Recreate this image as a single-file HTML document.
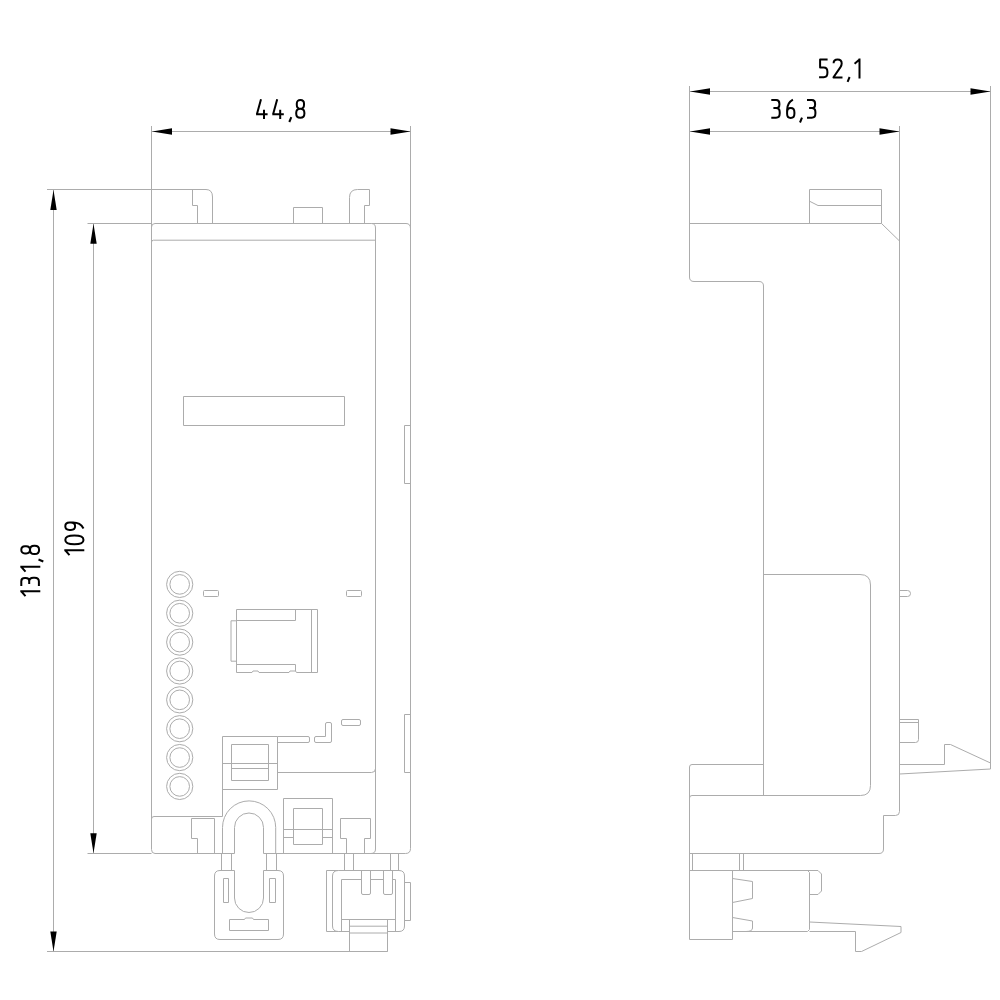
<!DOCTYPE html>
<html><head><meta charset="utf-8"><style>
html,body{margin:0;padding:0;background:#fff;width:1000px;height:1000px;overflow:hidden;}
svg{display:block;}
</style></head><body>
<svg width="1000" height="1000" viewBox="0 0 1000 1000">
<rect width="1000" height="1000" fill="#fff"/>
<g fill="none" stroke="#acacac" stroke-width="1">
<path d="M151.5,126 V227"/>
<path d="M410.5,126 V229"/>
<path d="M152,131.5 H410.5"/>
<path d="M47,189.5 H206"/>
<path d="M53.5,190 V951.5"/>
<path d="M47,951.5 H387.5"/>
<path d="M87.5,223.5 H151.5"/>
<path d="M87.5,853.5 H151.5"/>
<path d="M93.5,224 V853.5"/>
<path d="M234.5,853.5 H155 Q151.5,853.5 151.5,849.5 V227 Q151.5,223.5 155,223.5 H371.5 Q375.5,223.5 375.5,228 V849 Q375.5,853.5 371,853.5 H263.5"/>
<path d="M151.5,242.2 Q151.5,240.2 153.5,240.2 H375.5"/>
<path d="M371.5,223.5 H406 Q410.5,223.5 410.5,228.5 V848.5 Q410.5,853.5 405.5,853.5 H371"/>
<path d="M410.5,425.5 H404.5 V483.5 H410.5"/>
<path d="M410.5,714.5 H404.5 V772.5 H410.5"/>
<path d="M192.5,189.5 V205.5 H197.5 V223.5"/>
<path d="M206,189.5 Q212.5,189.5 212.5,197 V223.5"/>
<path d="M293.5,223.5 V207.5 H322.5 V223.5"/>
<path d="M349.5,223.5 V197.5 Q349.5,189.5 357.5,189.5 H369.5 V205.5 H364.5 V223.5"/>
<path d="M183.5,396.5 H344.5 V425.5 H183.5 Z"/>
<path d="M204.5,590.5 H217.5 Q218.5,590.5 218.5,591.5 V595.5 Q218.5,596.5 217.5,596.5 H204.5 Q203.5,596.5 203.5,595.5 V591.5 Q203.5,590.5 204.5,590.5 Z"/>
<path d="M347.5,590.5 H360.5 Q361.5,590.5 361.5,591.5 V595.5 Q361.5,596.5 360.5,596.5 H347.5 Q346.5,596.5 346.5,595.5 V591.5 Q346.5,590.5 347.5,590.5 Z"/>
<path d="M236.5,609.5 H317.5 V672.5 H296.5 L295.5,671 H290 L289,672.5 H259 L258,671 H253 L252,672.5 H236.5 Z"/>
<path d="M311.5,609.5 V672.5"/>
<path d="M236.5,620.5 H295.5 V609.5"/>
<path d="M236.5,664.5 H295.5 V671"/>
<path d="M236.5,620.8 H231 V661.2 H236.5"/>
<path d="M222.5,816.5 V736.5 H277.5 V789.5 H222.5"/>
<path d="M231.5,744.5 H268.5 V780.5 H231.5 Z"/>
<path d="M222.5,763.5 H277.5"/>
<path d="M231.5,768.5 H268.5"/>
<path d="M277.5,736.5 H308 Q309.5,736.5 309.5,738 V741 Q309.5,742.5 308,742.5 H277.5"/>
<path d="M316,736.5 H325.5 V724 Q325.5,722.5 327,722.5 H330 Q331.5,722.5 331.5,724 V741 Q331.5,742.5 330,742.5 H316 Q314.5,742.5 314.5,741 V738 Q314.5,736.5 316,736.5 Z"/>
<path d="M343,719.5 H359 Q360.5,719.5 360.5,721 V724 Q360.5,725.5 359,725.5 H343 Q341.5,725.5 341.5,724 V721 Q341.5,719.5 343,719.5 Z"/>
<path d="M277.5,772.5 H371.5 Q375.5,772.5 375.5,768.5"/>
<path d="M151.5,819 Q151.5,816.5 154,816.5 H222.5"/>
<path d="M197.5,853.5 V838.5 H191.5 V818.5 H214.5 V853.5"/>
<path d="M222.5,853.5 V827.5 A26.6,26.6 0 0 1 275.7,827.5 V853.5"/>
<path d="M234.5,853.5 V827.5 A14.5,14.5 0 0 1 263.5,827.5 V853.5"/>
<path d="M283.5,853.5 V798.5 H332.5 V853.5"/>
<path d="M293.5,808.5 H322.5 V844.5 H293.5 Z"/>
<path d="M283.5,829.5 H332.5"/>
<path d="M283.5,837.5 H293.5 M322.5,837.5 H332.5"/>
<path d="M346.5,853.5 V838.5 H340.5 V818.5 H370.5 V838.5 H364.5 V853.5"/>
<path d="M221.5,853.5 V870.5 M231.5,853.5 V870.5 M266.5,853.5 V870.5 M276.5,853.5 V870.5"/>
<path d="M344.5,853.5 V870.5 M353.5,853.5 V870.5 M390.5,853.5 V870.5 M398.5,853.5 V870.5"/>
<path d="M234.5,870.5 H220 Q214.5,870.5 214.5,876 V934 Q214.5,939.5 220,939.5 H278 Q283.5,939.5 283.5,934 V876 Q283.5,870.5 278,870.5 H263.5 V898 A14.5,14.5 0 0 1 234.5,898 Z"/>
<path d="M223.5,878.5 H228.5 V902.5 H223.5 Z"/>
<path d="M269.5,878.5 H275.5 V902.5 H269.5 Z"/>
<path d="M229.5,919.5 H244.5 L245.5,918 H252.5 L253.5,919.5 H268.5 V930.5 H229.5 Z"/>
<path d="M338.5,870.5 H326.5 V931.5 H338.5"/>
<path d="M349.5,931.5 H338.5 Q332.5,931.5 332.5,926 V876 Q332.5,870.5 338.5,870.5 H399 Q404.5,870.5 404.5,876 V926 Q404.5,931.5 399,931.5 H387.5"/>
<path d="M341.5,931.5 V879.5 H361.5 M370.5,879.5 H383.5 M392.5,879.5 H395.5 V931.5"/>
<path d="M341.5,919.5 H395.5"/>
<path d="M361.5,870.5 V893 Q361.5,894.5 363,894.5 H369 Q370.5,894.5 370.5,893 V870.5"/>
<path d="M383.5,870.5 V893 Q383.5,894.5 385,894.5 H391 Q392.5,894.5 392.5,893 V870.5"/>
<path d="M349.5,919.5 V951.5 H387.5 V919.5"/>
<path d="M349.5,926.2 H387.5 M349.5,933 H387.5"/>
<path d="M404.5,882.5 H410.5 V920.5 H404.5"/>
<path d="M689.5,86 V277 Q689.5,281.5 694,281.5 H759 Q763.5,281.5 763.5,286 V795.5"/>
<path d="M899.5,126 V811.5 Q899.5,815.5 895.5,815.5 H883.5 V849 Q883.5,853.5 879,853.5 H689.5"/>
<path d="M990.5,86 V769"/>
<path d="M690,91.5 H990.5"/>
<path d="M690,131.5 H899.5"/>
<path d="M689.5,223.5 H881.5 L899.5,241"/>
<path d="M809.5,223.5 V189.5 H881.5 V223.5"/>
<path d="M809.5,201.2 L818,205.5 H881.5"/>
<path d="M763.5,574.5 H860 Q870.5,574.5 870.5,585 V785.5 Q870.5,795.5 860.5,795.5 H692 Q689.5,795.5 689.5,798"/>
<path d="M689.5,939.5 V767 Q689.5,764.5 692,764.5 H763.5"/>
<path d="M899.5,590.5 H907.5 Q910.5,590.5 910.5,593.5 Q910.5,596.5 907.5,596.5 H899.5"/>
<path d="M899.5,719.5 H918.5 V739.5 Q918.5,742.5 915.5,742.5 H899.5"/>
<path d="M899.5,722.5 H918.5"/>
<path d="M899.5,764.5 H944.5 V744.5 H950.5 L990.5,763 V769 L899.5,774"/>
<path d="M692.5,853.5 V870.5 M739.5,853.5 V870.5 M743.5,853.5 V870.5"/>
<path d="M689.5,870.5 H818 L821.5,874 V891 L818,894.5 H809.5"/>
<path d="M732.5,870.5 V939.5 H689.5"/>
<path d="M732.5,931.5 H807.5 L809.5,929.5 V872.5 L807.5,870.5"/>
<path d="M732.5,878.5 L752.5,881.5 V898.5 L732.5,902.5"/>
<path d="M732.5,917.5 L752.5,921 V928 Q752.5,931.5 746,931.5"/>
<path d="M809.5,922 L901,926.5 V932.5 L861.5,951.5 H855.5 V931.5 H809.5"/>
<circle cx="179.7" cy="584.40" r="13.1"/><circle cx="179.7" cy="584.40" r="9.8"/>
<circle cx="179.7" cy="613.26" r="13.1"/><circle cx="179.7" cy="613.26" r="9.8"/>
<circle cx="179.7" cy="642.12" r="13.1"/><circle cx="179.7" cy="642.12" r="9.8"/>
<circle cx="179.7" cy="670.98" r="13.1"/><circle cx="179.7" cy="670.98" r="9.8"/>
<circle cx="179.7" cy="699.84" r="13.1"/><circle cx="179.7" cy="699.84" r="9.8"/>
<circle cx="179.7" cy="728.70" r="13.1"/><circle cx="179.7" cy="728.70" r="9.8"/>
<circle cx="179.7" cy="757.56" r="13.1"/><circle cx="179.7" cy="757.56" r="9.8"/>
<circle cx="179.7" cy="786.42" r="13.1"/><circle cx="179.7" cy="786.42" r="9.8"/>
</g>
<g fill="#000" stroke="none">
<polygon points="152.00,131.50 172.00,128.30 172.00,134.70"/>
<polygon points="410.50,131.50 390.50,128.30 390.50,134.70"/>
<polygon points="53.50,190.00 50.30,210.00 56.70,210.00"/>
<polygon points="53.50,951.50 50.30,931.50 56.70,931.50"/>
<polygon points="93.50,223.80 90.30,243.80 96.70,243.80"/>
<polygon points="93.50,853.20 90.30,833.20 96.70,833.20"/>
<polygon points="690.00,91.50 710.00,88.30 710.00,94.70"/>
<polygon points="990.50,91.50 970.50,88.30 970.50,94.70"/>
<polygon points="690.00,131.50 710.00,128.30 710.00,134.70"/>
<polygon points="899.50,131.50 879.50,128.30 879.50,134.70"/>
</g>
<g fill="none" stroke="#000" stroke-width="2" stroke-linecap="butt" stroke-linejoin="round">
<g transform="translate(256.00,99.00)"><path d="M5,0.2 L0.9,15.2 M0,15.2 H11.6 M8,10.8 V20"/></g>
<g transform="translate(272.20,99.00)"><path d="M5,0.2 L0.9,15.2 M0,15.2 H11.6 M8,10.8 V20"/></g>
<g transform="translate(288.30,99.00)"><path d="M3,18.2 L1,23"/></g>
<g transform="translate(295.20,99.00)"><path d="M5.2,1 C7.4,1 8.8,2.2 8.8,4.6 V5.9 C8.8,8.3 7.4,9.7 5.2,9.7 C3,9.7 1.6,8.3 1.6,5.9 V4.6 C1.6,2.2 3,1 5.2,1 Z M5.1,9.7 C7.7,9.7 9.2,11.3 9.2,13.9 V14.5 C9.2,17.3 7.7,18.8 5.1,18.8 C2.5,18.8 1,17.3 1,14.5 V13.9 C1,11.3 2.5,9.7 5.1,9.7 Z"/></g>
<g transform="translate(771.00,99.10)"><path d="M0.3,1 H5.2 C7.4,1 8.4,2.4 8.4,4.6 V5.3 C8.4,7.5 7.2,8.9 5,8.9 H2.4 M5,8.9 C7.4,8.9 8.7,10.5 8.7,13 V14.4 C8.7,17.2 7.4,18.6 5,18.6 H0.3"/></g>
<g transform="translate(786.10,99.10)"><path d="M6.8,0.6 C3.2,2.6 1,6 1,11 V14.6 C1,17.4 2.4,18.8 4.65,18.8 C6.9,18.8 8.3,17.4 8.3,14.6 V13.2 C8.3,10.4 6.9,9 4.65,9 C2.4,9 1,10.4 1,13.2"/></g>
<g transform="translate(799.00,99.50)"><path d="M3,18.2 L1,23"/></g>
<g transform="translate(806.70,99.10)"><path d="M0.3,1 H5.2 C7.4,1 8.4,2.4 8.4,4.6 V5.3 C8.4,7.5 7.2,8.9 5,8.9 H2.4 M5,8.9 C7.4,8.9 8.7,10.5 8.7,13 V14.4 C8.7,17.2 7.4,18.6 5,18.6 H0.3"/></g>
<g transform="translate(819.10,58.60)"><path d="M8.5,1 H1 V9 H4.6 C7,9 8.3,10.6 8.3,13.2 V14.4 C8.3,17.1 7,18.6 4.6,18.6 H0"/></g>
<g transform="translate(832.30,58.60)"><path d="M1.3,4.6 C1.3,2.3 3,1 5.3,1 C7.7,1 9.4,2.4 9.4,4.9 C9.4,6.4 8.9,7.4 8,8.8 L1.2,18.6 V19 H10.2"/></g>
<g transform="translate(846.60,58.80)"><path d="M3,18.2 L1,23"/></g>
<g transform="translate(851.00,58.60)"><path d="M8.5,0 V20 M8.5,1 L3.6,5.2"/></g>
<g transform="translate(20.30,599.80) rotate(-90)"><path d="M8.5,0 V20 M8.5,1 L3.6,5.2"/></g>
<g transform="translate(20.30,586.40) rotate(-90)"><path d="M0.3,1 H5.2 C7.4,1 8.4,2.4 8.4,4.6 V5.3 C8.4,7.5 7.2,8.9 5,8.9 H2.4 M5,8.9 C7.4,8.9 8.7,10.5 8.7,13 V14.4 C8.7,17.2 7.4,18.6 5,18.6 H0.3"/></g>
<g transform="translate(20.30,575.30) rotate(-90)"><path d="M8.5,0 V20 M8.5,1 L3.6,5.2"/></g>
<g transform="translate(20.30,562.50) rotate(-90)"><path d="M3,18.2 L1,23"/></g>
<g transform="translate(20.30,555.00) rotate(-90)"><path d="M5.2,1 C7.4,1 8.8,2.2 8.8,4.6 V5.9 C8.8,8.3 7.4,9.7 5.2,9.7 C3,9.7 1.6,8.3 1.6,5.9 V4.6 C1.6,2.2 3,1 5.2,1 Z M5.1,9.7 C7.7,9.7 9.2,11.3 9.2,13.9 V14.5 C9.2,17.3 7.7,18.8 5.1,18.8 C2.5,18.8 1,17.3 1,14.5 V13.9 C1,11.3 2.5,9.7 5.1,9.7 Z"/></g>
<g transform="translate(64.30,558.80) rotate(-90)"><path d="M8.5,0 V20 M8.5,1 L3.6,5.2"/></g>
<g transform="translate(64.30,545.20) rotate(-90)"><path d="M1,10.1 C1,4.2 2.9,1 5.3,1 C7.7,1 9.6,4.2 9.6,10.1 C9.6,16 7.7,19.2 5.3,19.2 C2.9,19.2 1,16 1,10.1 Z"/></g>
<g transform="translate(64.30,530.90) rotate(-90)"><path d="M6.8,0.6 C3.2,2.6 1,6 1,11 V14.6 C1,17.4 2.4,18.8 4.65,18.8 C6.9,18.8 8.3,17.4 8.3,14.6 V13.2 C8.3,10.4 6.9,9 4.65,9 C2.4,9 1,10.4 1,13.2" transform="rotate(180 4.65 9.9)"/></g>
</g>
</svg>
</body></html>
